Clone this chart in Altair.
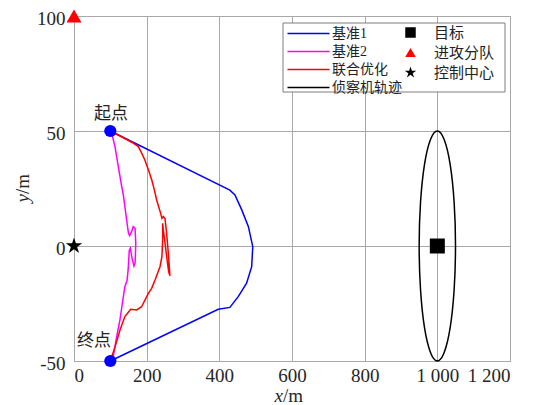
import altair as alt
import pandas as pd

# ---------------- data ----------------
series_names = ["基准1", "基准2", "联合优化", "侦察机轨迹"]
series_colors = ["#0000ff", "#ff00ff", "#ff0000", "#000000"]

base1_x = [100, 429, 443, 462, 480, 492, 489, 475, 452, 429, 397, 100]
base1_y = [50, 24.3, 22.2, 15.6, 8.4, -0.3, -9, -16.2, -22, -26.7, -27.5, -50]

base2_x = [100, 104, 113, 122, 130, 136, 141, 146, 150, 153, 158, 163, 168,
           170, 169, 168, 165, 160, 155, 152, 151, 149, 146, 140, 133, 126.6, 118, 113, 108, 100]
base2_y = [50, 49, 43, 34.5, 27, 22, 16, 10, 5.5, 4.5, 6, 8.4, 7.7,
           1.2, -4, -7.5, -8.7, -5.5, -1, -2, -5, -10.4, -15, -17.7, -25, -32, -39, -43.5, -48, -50]

opt_x = [100, 131, 160, 177, 186, 195, 205, 214, 221, 227.5, 238.5, 242, 245.8, 250.5,
         255, 259.6, 264, 260.6, 255, 249.6, 245.8, 244, 244, 242, 236.7, 223, 213.8,
         204.6, 186, 172.5, 156, 140, 126.6, 113, 100]
opt_y = [50, 47.5, 45, 43.2, 40.5, 37.4, 33, 28.7, 24.5, 20, 14.2, 12, 12.8, 11.9,
         5.5, -3.2, -13, -11.2, -4.6, 2.6, 7, 9.9, 2.6, -4.6, -9, -14.8, -18.4,
         -20.6, -26.4, -27.8, -27.5, -30.7, -36.5, -43.8, -50]

orbit_x = [1050, 1046.2, 1035.4, 1019.1, 1000, 980.9, 964.6, 953.8,
           950, 953.8, 964.6, 980.9, 1000, 1019.1, 1035.4, 1046.2]
orbit_y = [0, 19.1, 35.4, 46.2, 50, 46.2, 35.4, 19.1,
           0, -19.1, -35.4, -46.2, -50, -46.2, -35.4, -19.1]

STAR = ("M0,-1.15L0.259,-0.355L1.094,-0.355L0.417,0.136L0.676,0.93L0,0.439"
        "L-0.676,0.93L-0.417,0.136L-1.094,-0.355L-0.259,-0.355Z")

marker_names = ["目标", "进攻分队", "控制中心"]
marker_x = [1000, 0, 0]
marker_y = [0, 100, 0]
marker_shapes = ["square", "triangle-up", STAR]
marker_colors = ["#000000", "#ff0000", "#000000"]

end_labels = ["起点", "终点"]
end_x = [100, 100]
end_y = [50, -50]
end_label_x = [102, 55]
end_label_y = [57.5, -41.5]

x_ticks = [0, 200, 400, 600, 800, 1000, 1200]
y_ticks = [-50, 0, 50, 100]

# axis titles: italic variable + upright unit
x_title = ["x", "/m"]
y_title = ["y", "/m"]
x_title_pos = [575, -68]
y_title_pos = [-124, 22.6]

# ---------------- tables ----------------
rows = []
for name, xs_, ys_ in [("基准1", base1_x, base1_y), ("基准2", base2_x, base2_y), ("联合优化", opt_x, opt_y)]:
    for i, (a, b) in enumerate(zip(xs_, ys_)):
        rows.append({"x": a, "y": b, "series": name, "idx": i})
lines_df = pd.DataFrame(rows)
orbit_df = pd.DataFrame({"x": orbit_x, "y": orbit_y, "idx": list(range(len(orbit_x)))})
marker_df = pd.DataFrame({"x": marker_x, "y": marker_y, "name": marker_names})
end_df = pd.DataFrame({"x": end_x, "y": end_y})
lab_df = pd.DataFrame({"x": end_label_x, "y": end_label_y, "t": end_labels})

SERIF = "Liberation Serif, Noto Sans CJK SC"
CJK = "Noto Sans CJK SC"
TXT = "#262626"

xs = alt.Scale(domain=[0, 1200], nice=False, zero=False)
ys = alt.Scale(domain=[-50, 100], nice=False, zero=False)

x_axis = alt.Axis(values=x_ticks, title=None, ticks=False, domain=False,
                  labelExpr="datum.value >= 1000 ? floor(datum.value/1000) + ' ' + format(datum.value % 1000, '03d') : datum.label",
                  labelPadding=5)
y_axis = alt.Axis(values=y_ticks, title=None, ticks=False, domain=False,
                  labelExpr="replace(datum.label, '−', '-')",
                  labelPadding=9, labelOffset=2)

X = alt.X("x:Q", scale=xs, axis=x_axis)
Y = alt.Y("y:Q", scale=ys, axis=y_axis)

box = alt.Chart(pd.DataFrame({"k": [0]})).mark_rect(
    fill="white", stroke="#7f7f7f", strokeWidth=1
).encode(x=alt.value(209), x2=alt.value(431), y=alt.value(7), y2=alt.value(76))

line_legend = alt.Legend(
    title=None, orient="none", legendX=226, legendY=9, padding=0,
    symbolType="M-2.8,0L2.8,0", symbolSize=225, symbolStrokeWidth=1.5,
    labelOffset=15, rowPadding=2, labelFont=SERIF, labelFontSize=14, labelColor="#222",
)
lines = alt.Chart(lines_df).mark_line(strokeWidth=1.5).encode(
    x=X, y=Y,
    color=alt.Color("series:N", scale=alt.Scale(domain=series_names, range=series_colors), legend=line_legend),
    order=alt.Order("idx:Q"),
)

orbit = alt.Chart(orbit_df).mark_line(strokeWidth=1.5, color="black", interpolate="cardinal-closed").encode(
    x=X, y=Y, order=alt.Order("idx:Q"),
)

mk_legend = alt.Legend(
    title=None, orient="none", legendX=329, legendY=9, padding=0,
    symbolSize=110, labelOffset=16, rowPadding=4, labelFont=SERIF, labelFontSize=15,
    labelColor="#222",
)
markers = alt.Chart(marker_df).mark_point(filled=True, opacity=1, size=225).encode(
    x=X, y=Y,
    color=alt.Color("name:N", scale=alt.Scale(domain=marker_names, range=marker_colors), legend=mk_legend),
    shape=alt.Shape("name:N", scale=alt.Scale(domain=marker_names, range=marker_shapes), legend=mk_legend),
)

ends = alt.Chart(end_df).mark_circle(size=150, color="#0000ff", opacity=1).encode(x=X, y=Y)

labels = alt.Chart(lab_df).mark_text(font=CJK, fontSize=17, color="#222").encode(
    x=X, y=Y, text="t:N",
)

xt_df = pd.DataFrame({"x": [x_title_pos[0]], "y": [x_title_pos[1]], "a": [x_title[0]], "b": [x_title[1]]})
yt_df = pd.DataFrame({"x": [y_title_pos[0]], "y": [y_title_pos[1]], "a": [y_title[0]], "b": [y_title[1]]})

xt_a = alt.Chart(xt_df).mark_text(font="Liberation Serif", fontSize=19, fontStyle="italic", color=TXT,
                                  align="right", baseline="alphabetic").encode(x=X, y=Y, text="a:N")
xt_b = alt.Chart(xt_df).mark_text(font="Liberation Serif", fontSize=19, color=TXT,
                                  align="left", baseline="alphabetic").encode(x=X, y=Y, text="b:N")
yt_a = alt.Chart(yt_df).mark_text(font="Liberation Serif", fontSize=19, fontStyle="italic", color=TXT,
                                  align="right", baseline="alphabetic", angle=270).encode(x=X, y=Y, text="a:N")
yt_b = alt.Chart(yt_df).mark_text(font="Liberation Serif", fontSize=19, color=TXT,
                                  align="left", baseline="alphabetic", angle=270).encode(x=X, y=Y, text="b:N")

chart = alt.layer(box, lines, orbit, markers, ends, labels, xt_a, xt_b, yt_a, yt_b).resolve_scale(
    color="independent", shape="independent"
).properties(
    width=436, height=345,
    autosize=alt.AutoSizeParams(type="none"),
    padding={"left": 66, "top": 8, "right": 17, "bottom": 44},
).configure_view(
    stroke="#7f7f7f", strokeWidth=1
).configure_axis(
    gridColor="#a8a8a8", gridWidth=1, gridOpacity=1,
    labelFont="Liberation Serif", labelFontSize=19, labelColor=TXT,
)

chart.save("out.html", embed_options={"renderer": "svg", "actions": False})
